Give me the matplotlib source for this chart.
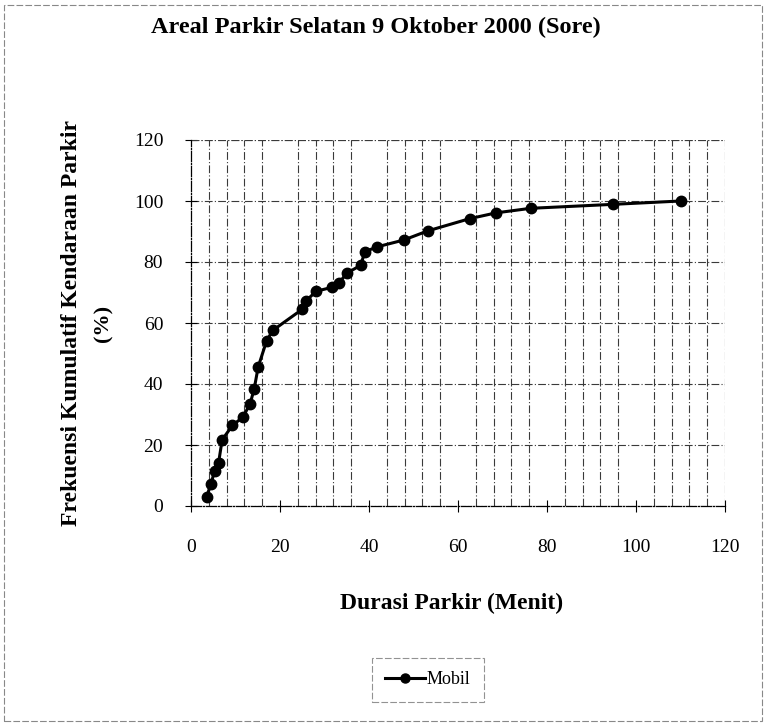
import matplotlib
matplotlib.use("Agg")
import matplotlib.pyplot as plt
from matplotlib.patches import Rectangle

# ---- data ----
durasi = [3.5, 4.5, 5.3, 6.2, 7.0, 9.3, 11.7, 13.3, 14.2, 15.1, 17.0, 18.4,
          25.0, 25.9, 28.1, 31.7, 33.2, 35.1, 38.1, 39.1, 41.9, 47.8,
          53.2, 62.6, 68.5, 76.3, 94.8, 110.0]
frek_kum = [3.0, 7.3, 11.5, 14.2, 21.7, 26.4, 29.2, 33.6, 38.4, 45.6, 54.2, 57.6,
            64.5, 67.3, 70.4, 71.7, 73.1, 76.4, 78.9, 83.4, 85.0, 87.2,
            90.2, 94.2, 96.1, 97.6, 98.9, 100.0]
series_name = "Mobil"
x_ticks = [0, 20, 40, 60, 80, 100, 120]
y_ticks = [0, 20, 40, 60, 80, 100, 120]
title = "Areal Parkir Selatan 9 Oktober 2000 (Sore)"
x_label = "Durasi Parkir (Menit)"
y_label = "Frekuensi Kumulatif Kendaraan Parkir"
y_label2 = "(%)"

serif = ["Liberation Serif", "DejaVu Serif"]
plt.rcParams["font.family"] = serif

fig = plt.figure(figsize=(7.67, 7.27), dpi=100)
W, H = 767, 727

def fx(px):
    return px / W

def fy(py):
    return 1 - py / H

ax = fig.add_axes([fx(191), fy(506), fx(725) - fx(191), fy(140) - fy(506)])

grid_style = dict(color="#3a3a3a", linewidth=0.8, linestyle=(0, (7, 2, 1, 2)))
ax.set_xlim(0, 120)
ax.set_ylim(0, 120)
ax.set_xticks(x_ticks)
ax.set_yticks(y_ticks)
ax.set_xticks(range(0, 121, 4), minor=True)
ax.grid(True, which="major", axis="y", **grid_style)
ax.grid(True, which="minor", axis="x", **grid_style)
ax.set_axisbelow(True)
ax.tick_params(axis="both", which="major", direction="inout", length=8,
               width=0.8, labelsize=14, colors="black")
ax.tick_params(axis="x", which="major", pad=20)
ax.tick_params(axis="y", which="major", pad=16)
ax.tick_params(axis="x", which="minor", length=0)
for s in ["top", "right"]:
    ax.spines[s].set_visible(False)
for s in ["left", "bottom"]:
    ax.spines[s].set_linewidth(0.9)
    ax.spines[s].set_linestyle((0, (8, 1.5, 1, 1.5)))
ax.plot([120, 120], [0, 120], **grid_style)
ax.plot([0, 120], [120, 120], **grid_style)

line, = ax.plot(durasi, frek_kum, color="black", linewidth=2.2,
                marker="o", markersize=7.5, label=series_name, clip_on=False)

fig.text(fx(376), fy(27), title, ha="center", va="center",
         fontsize=17.5, fontweight="bold")
fig.text(fx(72), fy(323), y_label, ha="center", va="center", rotation=90,
         fontsize=17, fontweight="bold")
fig.text(fx(103), fy(323), y_label2, ha="center", va="center", rotation=90,
         fontsize=16, fontweight="bold")
fig.text(fx(452), fy(603), x_label, ha="center", va="center",
         fontsize=17, fontweight="bold")

leg = fig.legend(handles=[line], loc="center", bbox_to_anchor=(fx(428), fy(680)),
                 frameon=True, fancybox=False, edgecolor="#777777",
                 fontsize=13, handlelength=2.2, borderpad=0.75,
                 handletextpad=0.1)
leg.get_frame().set_linewidth(0.8)
leg.get_frame().set_linestyle((0, (6, 2)))
for h in leg.legend_handles:
    h.set_markersize(6.5)

fig.patches.append(Rectangle((fx(4), fy(721)), fx(758), fy(5) - fy(721),
                             transform=fig.transFigure, fill=False,
                             edgecolor="#888888", linewidth=0.8,
                             linestyle=(0, (6, 2))))

fig.savefig("out.png", dpi=100)
